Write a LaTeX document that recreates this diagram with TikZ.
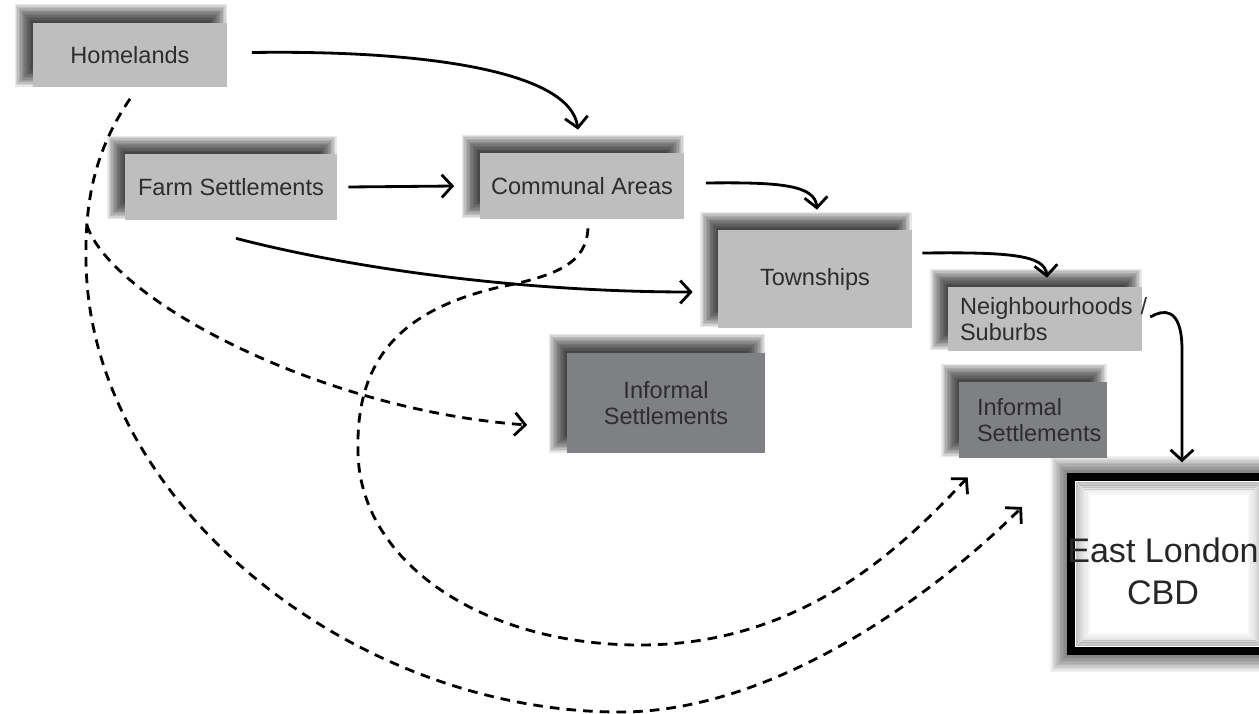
\documentclass[tikz,border=0pt]{standalone}
\usepackage{fontspec}
\setmainfont{Liberation Sans}
\usetikzlibrary{arrows.meta,backgrounds}
\definecolor{boxlight}{RGB}{190,190,191}
\definecolor{boxdark}{RGB}{127,128,132}
\definecolor{labeltext}{RGB}{45,45,48}

\begin{document}
\begin{tikzpicture}[x=0.02cm,y=-0.02cm,
        place/.style={fill=boxlight, text=labeltext, inner sep=0pt,
            font=\fontsize{13.4}{15}\selectfont},
        informal/.style={place, fill=boxdark},
        move/.style={line width=1.6pt, -{Straight Barb[length=6pt,width=13pt]}},
        migrate/.style={move, dash pattern=on 5.5pt off 4pt}]
        \useasboundingbox (0,0) rectangle (1259,714);

        % rural places
        \node[place, minimum width=3.9cm, minimum height=1.3cm] (homelands) at (130,55) {Homelands};
        \node[place, minimum width=4.24cm, minimum height=1.32cm] (farm) at (231,187) {Farm Settlements};
        \node[place, minimum width=4.1cm, minimum height=1.32cm] (communal) at (582,186) {Communal Areas};
        % urban places
        \node[place, minimum width=3.88cm, minimum height=1.96cm] (townships) at (815,279) {Townships};
        \node[place, text width=3.4cm, inner xsep=0.24cm, minimum height=1.28cm, align=left] (suburbs) at (1045,319) {Neighbourhoods~/\\Suburbs};
        \node[informal, minimum width=3.98cm, minimum height=2.02cm, align=center] (informalA) at (666,403) {Informal\\Settlements};
        \node[informal, text width=2.24cm, inner xsep=0.36cm, minimum height=1.52cm, align=left] (informalB) at (1033,420) {Informal\\Settlements};

        % east london cbd (runs off the right edge)
        \node[fill=white, draw=black, line width=4.5pt, outer sep=0pt, inner sep=0pt,
            minimum width=3.92cm, minimum height=3.49cm] (cbd) at (1169,564) {};
        \foreach \i/\o in {1/.24,2/.19,3/.15,4/.11,5/.08,6/.05,7/.03}
            \draw[black, opacity=\o, line width=1.2pt]
                ([xshift=2.25pt+\i*1.1pt, yshift=-2.25pt-\i*1.1pt]cbd.north west) rectangle
                ([xshift=-2.25pt-\i*1.1pt, yshift=2.25pt+\i*1.1pt]cbd.south east);
        \node[align=center, text=black!85, font=\fontsize{19.4}{24}\selectfont] (cbdname) at ([xshift=-0.12cm,yshift=-0.14cm]cbd.center) {East London\\CBD};

        % shadows
        \begin{scope}[on background layer]
            \fill[white] (0,0) rectangle (1259,714);
            \foreach \n in {homelands,farm,communal,townships,suburbs,informalA,informalB}
                \foreach \k in {-6,...,6}
                    \fill[black, opacity=0.09]
                        ([xshift=-5.2pt+\k*0.8pt, yshift=5.5pt-\k*0.8pt]\n.north west) rectangle
                        ([xshift=-5.2pt-\k*0.8pt, yshift=5.5pt+\k*0.8pt]\n.south east);
            \foreach \k in {1,...,12}
                \fill[black, opacity=0.05]
                    ([xshift=-2.25pt-\k*0.8pt, yshift=2.25pt+\k*0.8pt]cbd.north west) rectangle
                    ([xshift=2.25pt+\k*0.8pt, yshift=-2.25pt-\k*0.8pt]cbd.south east);
        \end{scope}

        % solid moves
        \draw[move] ([xshift=0.48cm,yshift=0.05cm]homelands.east) .. controls (420,50) and (570,70) .. ([xshift=-0.08cm,yshift=0.46cm]communal.north);
        \draw[move] ([xshift=0.22cm]farm.east) -- ([xshift=-0.5cm]communal.west);
        \draw[move] ([xshift=0.42cm,yshift=0.06cm]communal.east) .. controls (780,182) and (815,185) .. ([xshift=0.04cm,yshift=0.4cm]townships.north);
        \draw[move] ([xshift=0.1cm,yshift=-0.36cm]farm.south) .. controls (350,268) and (520,292) .. ([xshift=-0.5cm,yshift=-0.26cm]townships.west);
        \draw[move] ([xshift=0.2cm,yshift=0.52cm]townships.east) .. controls (1010,252) and (1045,255) .. ([xshift=0.04cm,yshift=0.18cm]suburbs.north);
        \draw[move] ([xshift=0.16cm,yshift=0.04cm]suburbs.east) .. controls (1162,310) and (1182,305) .. (1182,350) -- ([xshift=0.26cm,yshift=0.29cm]cbd.north);

        % dashed moves
        \draw[migrate] ([yshift=-0.22cm]homelands.south) .. controls (95,150) and (85,200) .. (86,260) coordinate[pos=0.8] (branch)
            .. controls (88,500) and (350,712) .. (620,712)
            .. controls (780,712) and (942,587) .. ([xshift=-0.98cm,yshift=1.14cm]cbd.west);
        \draw[migrate] (branch) .. controls (112,300) and (320,410) .. ([xshift=-0.78cm,yshift=-0.44cm]informalA.west);
        \draw[migrate] ([xshift=0.12cm,yshift=-0.18cm]communal.south) .. controls (586,262) and (560,275) .. (500,287)
            .. controls (400,310) and (356,360) .. (358,450)
            .. controls (358,560) and (480,645) .. (640,645)
            .. controls (800,645) and (900,550) .. ([xshift=0.18cm,yshift=-0.38cm]informalB.south west);
\end{tikzpicture}
\end{document}
